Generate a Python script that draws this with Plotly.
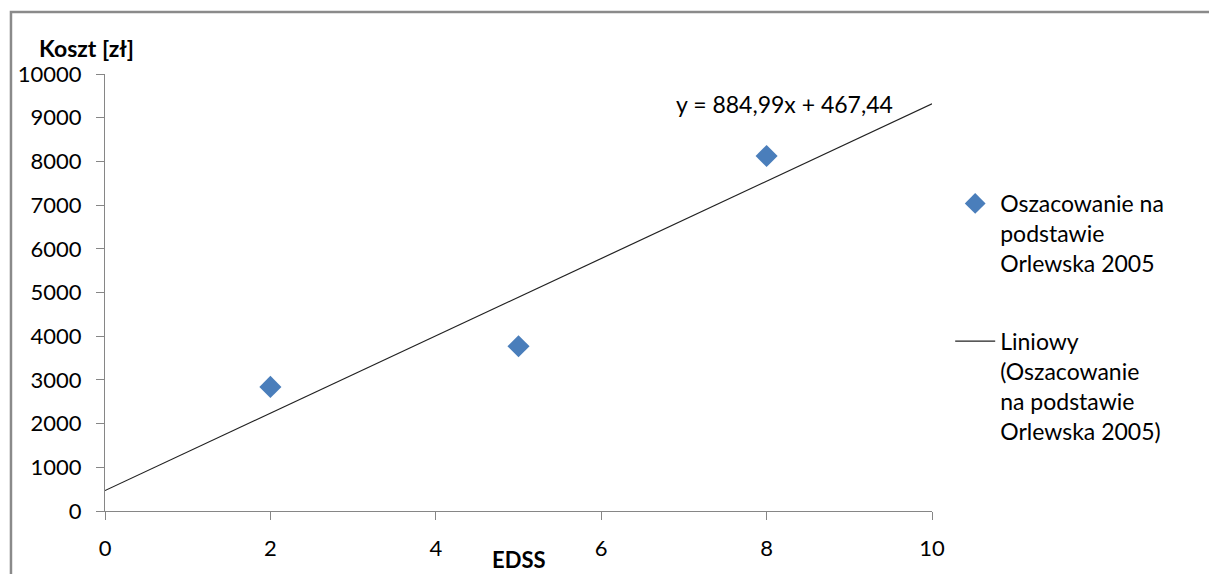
import plotly.graph_objects as go

# Data
edss = [2, 5, 8]
koszt = [2840, 3770, 8125]
slope = 884.99
intercept = 467.44
trend_x = [0, 10]
x_ticks = [0, 2, 4, 6, 8, 10]
y_ticks = [0, 1000, 2000, 3000, 4000, 5000, 6000, 7000, 8000, 9000, 10000]
y_ticktext = [str(v) for v in y_ticks]

FONT = "Lato"
FS = 22

trend_y = [slope * x + intercept for x in trend_x]

fig = go.Figure()
fig.add_trace(go.Scatter(
    x=edss, y=koszt, mode="markers",
    name="Oszacowanie na<br>podstawie<br>Orlewska 2005",
    marker=dict(symbol="diamond", size=17, color="#4A7EBB"),
    legendgroup="a",
))
fig.add_trace(go.Scatter(
    x=trend_x, y=trend_y, mode="lines",
    name="Liniowy<br>(Oszacowanie<br>na podstawie<br>Orlewska 2005)",
    line=dict(color="#222222", width=1.2),
    legendgroup="b",
))

axis_common = dict(
    showgrid=False, zeroline=False, showline=True,
    linecolor="#868686", linewidth=1.2,
    ticks="outside", ticklen=8, tickcolor="#868686", tickwidth=1.2,
    tickfont=dict(family=FONT, size=FS, color="#000000"),
    automargin=False,
)

fig.update_xaxes(range=[0, 10], tickvals=x_ticks, ticklabelstandoff=9, **axis_common)
fig.update_yaxes(range=[0, 10000], tickvals=y_ticks, ticktext=y_ticktext,
                 ticklabelstandoff=10, **axis_common)

fig.add_annotation(x=8.22, y=9314, xref="x", yref="y",
                   text="y = 884,99x + 467,44", showarrow=False,
                   font=dict(family=FONT, size=23, color="#000"))
fig.add_annotation(x=-0.0822, y=1.0595, xref="paper", yref="paper",
                   text="<b>Koszt [zł]</b>", showarrow=False,
                   xanchor="left", yanchor="middle",
                   font=dict(family=FONT, size=23, color="#000"))
fig.add_annotation(x=0.5, y=-0.111, xref="paper", yref="paper",
                   text="<b>EDSS</b>", showarrow=False,
                   xanchor="center", yanchor="middle",
                   font=dict(family=FONT, size=22, color="#000"))

fig.add_shape(type="rect", xref="paper", yref="paper",
              x0=-0.1137, x1=1.6, y0=-0.5, y1=1.1419,
              line=dict(color="#8A8A8A", width=2.5), layer="below")

fig.update_layout(
    width=1209, height=574,
    margin=dict(l=105, r=277, t=74, b=63),
    paper_bgcolor="white", plot_bgcolor="white",
    showlegend=True,
    legend=dict(x=1.022, y=0.753, xanchor="left", yanchor="top",
                valign="top", tracegroupgap=45, itemwidth=40,
                font=dict(family=FONT, size=23, color="#000")),
    font=dict(family=FONT, size=FS),
)

fig.write_html("out.html")
